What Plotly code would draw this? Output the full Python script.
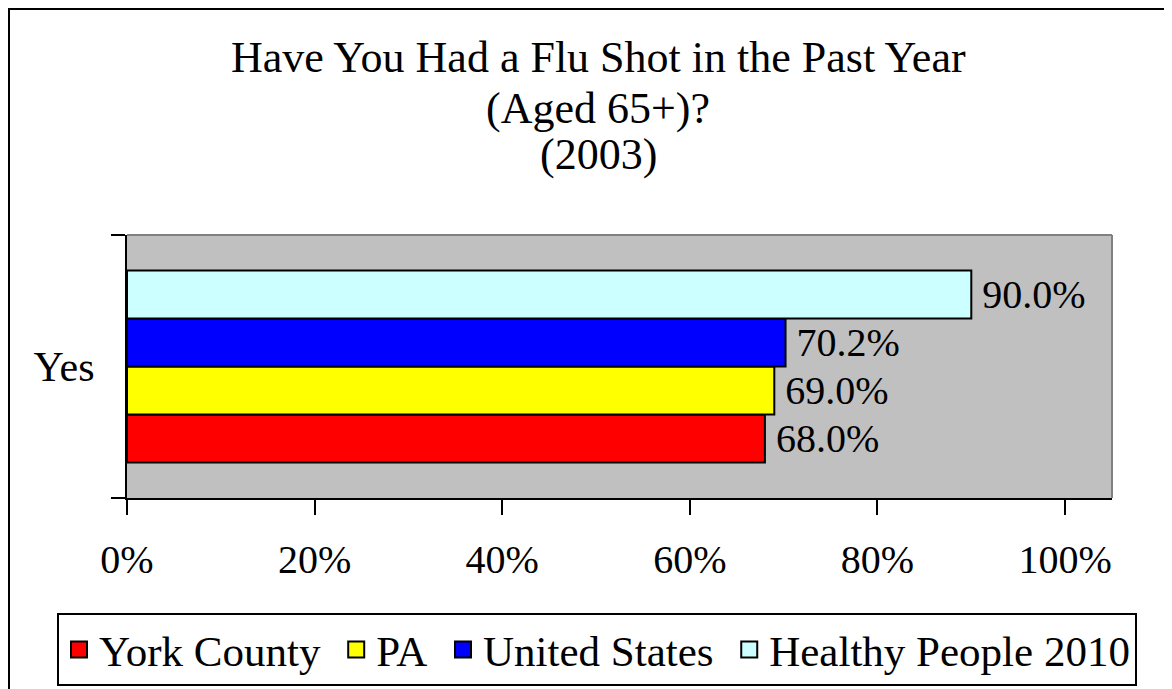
import plotly.graph_objects as go

categories = ["Yes"]
series_names = ["York County", "PA", "United States", "Healthy People 2010"]
series_values = [[0.680], [0.690], [0.702], [0.900]]
series_colors = ["#FF0000", "#FFFF00", "#0000FF", "#CCFFFF"]
x_ticks = [0, 0.2, 0.4, 0.6, 0.8, 1.0]
x_tick_labels = ["0%", "20%", "40%", "60%", "80%", "100%"]
title_lines = ["Have You Had a Flu Shot in the Past Year", "(Aged 65+)?", "(2003)"]

FONT = "Liberation Serif"

# page offset (browser body margin) compensation
OFF = 8
W, H = 1172, 689
T = 235 - OFF
B = H - (498 - OFF)
ph = H - T - B
x_dom = [(127 - OFF) / W, (1112 - OFF) / W]


def px_x(px):
    """reference page pixel -> paper x (margins l=r=0)"""
    return (px - OFF) / W


def px_y(py):
    """reference page pixel -> paper y"""
    return (H - B - (py - OFF)) / ph


fig = go.Figure()
for name, vals, col in zip(series_names, series_values, series_colors):
    fig.add_trace(go.Bar(
        y=categories, x=vals, name=name, orientation="h",
        marker=dict(color=col, line=dict(color="black", width=2)),
        texttemplate="\u2009%{x:.1%}", textposition="outside",
        textfont=dict(family=FONT, size=40, color="black"),
        constraintext="none", cliponaxis=False, showlegend=False,
    ))
# legend entries
n = len(series_names)
for i, (name, col) in enumerate(zip(series_names, series_colors)):
    label = name + ("\u00a0" if i < n - 1 else "")
    fig.add_trace(go.Scatter(
        x=[None], y=[None], mode="markers", name=label,
        marker=dict(symbol="square", size=16, color=col, line=dict(color="black", width=2)),
        showlegend=True,
    ))

title_centers = [58, 109, 154]
annotations = []
for line, cy in zip(title_lines, title_centers):
    annotations.append(dict(
        text=line, xref="paper", yref="paper", x=px_x(598), y=px_y(cy),
        xanchor="center", yanchor="middle", showarrow=False,
        font=dict(family=FONT, size=44, color="black"),
    ))

fig.update_layout(
    width=W, height=H,
    margin=dict(l=0, r=0, t=T, b=B, pad=0, autoexpand=False),
    paper_bgcolor="white", plot_bgcolor="white",
    barmode="group", bargap=0.27, bargroupgap=0,
    font=dict(family=FONT, size=40, color="black"),
    annotations=annotations,
    legend=dict(orientation="h", x=px_x(597), xanchor="center",
                y=px_y(613), yanchor="top",
                bordercolor="black", borderwidth=2, bgcolor="white",
                font=dict(family=FONT, size=43, color="black"),
                itemsizing="trace", traceorder="normal"),
    xaxis=dict(domain=x_dom, range=[0, 1.05], tickvals=x_ticks, ticktext=x_tick_labels,
               showgrid=False, zeroline=False, showline=True, linecolor="black", linewidth=2,
               ticks="outside", ticklen=15, tickwidth=2, tickcolor="black",
               ticklabelstandoff=10, tickfont=dict(family=FONT, size=40)),
    yaxis=dict(type="category", showgrid=False, zeroline=False, showline=True,
               linecolor="black", linewidth=2, ticks="outside", ticklen=14, tickwidth=2,
               tickcolor="black", tickson="boundaries", ticklabelstandoff=22,
               tickfont=dict(family=FONT, size=42)),
    shapes=[
        dict(type="rect", xref="x domain", yref="y domain", x0=0, x1=1, y0=0, y1=1,
             line=dict(width=0), fillcolor="#C0C0C0", layer="below"),
        dict(type="line", xref="x domain", yref="y domain", x0=0, x1=1, y0=1, y1=1,
             line=dict(color="#808080", width=2), layer="above"),
        dict(type="line", xref="x domain", yref="y domain", x0=1, x1=1, y0=0, y1=1,
             line=dict(color="#808080", width=2), layer="above"),
        dict(type="rect", xref="paper", yref="paper",
             x0=1 / W, x1=(W + 10) / W, y0=(H - B - 1) / ph, y1=(H - B - H - 10) / ph,
             line=dict(color="black", width=2), fillcolor="rgba(0,0,0,0)", layer="below"),
    ],
)

fig.write_html("out.html")
